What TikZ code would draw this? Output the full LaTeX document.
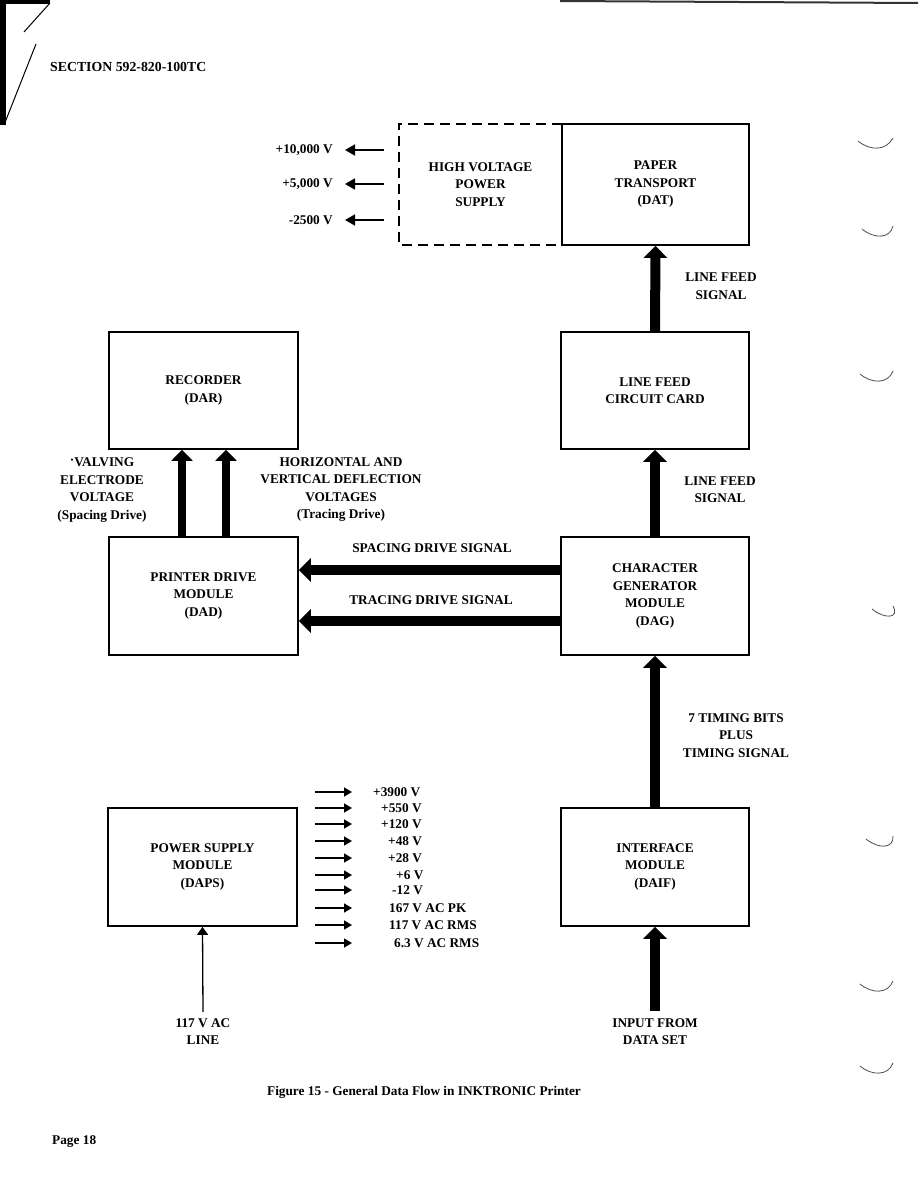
\documentclass[tikz,border=0pt]{standalone}
\usepackage{fontspec}
\setmainfont{Liberation Serif}
\usetikzlibrary{arrows.meta}
\tikzset{
  every node/.style={font=\fontsize{13.3}{17.5}\selectfont\bfseries, inner sep=0pt},
  blockbox/.style={draw, line width=1.7pt, minimum width=188pt, minimum height=118pt, align=center},
  lbl/.style={align=center},
  fatarrow/.style={line width=10pt, -{Triangle[length=12pt,width=23pt]}},
  midarrow/.style={line width=8pt, -{Triangle[length=11pt,width=21pt]}},
  thinarrow/.style={line width=1.7pt, -{Triangle[length=10pt,width=11pt]}},
  outarrow/.style={line width=1.5pt, -{Triangle[length=8pt,width=9pt]}},
  feedarrow/.style={line width=1.3pt, -{Triangle[length=8pt,width=11pt]}},
  dashedline/.style={line width=1.6pt, dash pattern=on 10pt off 6pt},
  scanmark/.style={line width=0.8pt, draw=black!70},
}
\begin{document}
\begin{tikzpicture}[x=1pt,y=-1pt]
\useasboundingbox (0,0) rectangle (918,1188);
\fill[white] (0,0) rectangle (918,1188);

% scan artifacts
\fill[black] (0,0) rectangle (6,125);
\fill[black] (0,0) rectangle (50,4);
\draw[line width=1pt] (50,3) -- (24,32);
\draw[line width=1pt] (36,44) -- (4,125);
\draw[line width=2pt, draw=black!80] (560,1) -- (918,3);
\foreach \yy/\xx in {147/858,235/862,380/860,615/872,845/866,990/860,1072/860}
  \draw[scanmark] (\xx,\yy-6) .. controls (\xx+12,\yy+4) and (\xx+28,\yy+4) .. (893,\yy-9);

% header / footer
\node[anchor=west, font=\fontsize{13.8}{17.5}\selectfont\bfseries] (hdr) at (50,67) {SECTION 592-820-100TC};
\node (cap) at (424,1092) {Figure 15 - General Data Flow in INKTRONIC Printer};
\node[anchor=west] (pg) at (52,1142) {Page 18};

% blocks
\node[blockbox, minimum width=187pt, minimum height=121pt] (paper) at (655.5,184.5) {PAPER\\TRANSPORT\\(DAT)};
\node[minimum width=163pt, minimum height=121pt, align=center] (hv) at (480.5,184.5) {HIGH VOLTAGE\\POWER\\SUPPLY};
\draw[dashedline] (hv.north east) -- (hv.north west) -- (hv.south west) -- (hv.south east);

\node[blockbox, minimum width=189pt, minimum height=117pt] (rec) at (203.5,390.5) {RECORDER\\(DAR)};
\node[blockbox, minimum height=117pt] (lfc) at (655,390.5) {LINE FEED\\CIRCUIT CARD};
\node[blockbox, minimum width=189pt] (pdm) at (203.5,596) {PRINTER DRIVE\\MODULE\\(DAD)};
\node[blockbox] (cgm) at (655,596) {CHARACTER\\GENERATOR\\MODULE\\(DAG)};
\node[blockbox, minimum width=189pt] (psm) at (202.5,867) {POWER SUPPLY\\MODULE\\(DAPS)};
\node[blockbox] (ifm) at (655,867) {INTERFACE\\MODULE\\(DAIF)};

% labels
\node[lbl] (lfs1) at (721,286) {LINE FEED\\SIGNAL};
\node[lbl] (lfs2) at (720,489.5) {LINE FEED\\SIGNAL};
\node[lbl] (tim) at (736,735.5) {7 TIMING BITS\\PLUS\\TIMING SIGNAL};
\node[lbl] (inp) at (655,1031.5) {INPUT FROM\\DATA SET};
\node[lbl] (valv) at (102,490) {\raisebox{2pt}{·}VALVING\\ELECTRODE\\VOLTAGE\\(Spacing Drive)};
\node[lbl] (hvd) at (341,489.5) {HORIZONTAL AND\\VERTICAL DEFLECTION\\VOLTAGES\\(Tracing Drive)};
\node (sds) at (432,548) {SPACING DRIVE SIGNAL};
\node (tds) at (431,600) {TRACING DRIVE SIGNAL};
\node[lbl] (acl) at (203,1031.5) {117 V AC\\LINE};

% HV outputs
\node[anchor=east, inner xsep=12pt] (v1) at (345,150) {+10,000 V};
\node[anchor=east, inner xsep=12pt] (v2) at (345,184) {+5,000 V};
\node[anchor=east, inner xsep=12pt] (v3) at (345,220) {-2500 V};
\coordinate (h1) at (384,150);
\coordinate (h2) at (384,184);
\coordinate (h3) at (384,220);
\draw[thinarrow] (h1) -- (v1.east);
\draw[thinarrow] (h2) -- (v2.east);
\draw[thinarrow] (h3) -- (v3.east);

% fat arrows
\draw[fatarrow] (lfc.north) -- (paper.south);
\draw[fatarrow] (cgm.north) -- (lfc.south);
\draw[fatarrow] (ifm.north) -- (cgm.south);
\draw[fatarrow] ([yshift=7pt]inp.north) -- (ifm.south);
\draw[midarrow] ([xshift=-21.5pt]pdm.north) -- ([xshift=-21.5pt]rec.south);
\draw[midarrow] ([xshift=22.5pt]pdm.north) -- ([xshift=22.5pt]rec.south);
\draw[fatarrow] ([yshift=26pt]cgm.west) -- ([yshift=26pt]pdm.east);
\draw[fatarrow] ([yshift=-25pt]cgm.west) -- ([yshift=-25pt]pdm.east);

% AC line input
\draw[feedarrow] ([yshift=6pt]acl.north) -- (psm.south);

% power supply outputs
\foreach \i/\yy/\xx/\txt in {
  1/792/373/{+3900 V},
  2/808/381/{+550 V},
  3/824/381/{+120 V},
  4/841/388/{+48 V},
  5/858/388/{+28 V},
  6/875/396/{+6 V},
  7/890/392/{-12 V},
  8/908/389/{167 V AC PK},
  9/925/389/{117 V AC RMS},
  10/943/394/{6.3 V AC RMS}}{
  \coordinate (ps\i) at (315,\yy);
  \coordinate (pe\i) at (352,\yy);
  \draw[outarrow] (ps\i) -- (pe\i);
  \node[anchor=west] (pv\i) at (\xx,\yy) {\txt};
}
\end{tikzpicture}
\end{document}
